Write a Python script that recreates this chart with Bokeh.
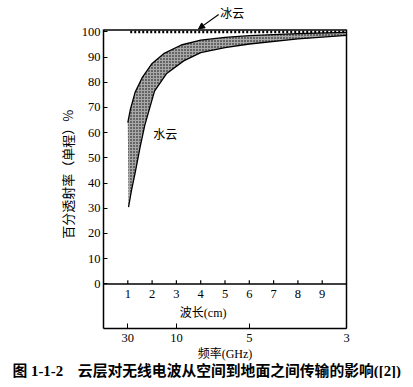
import numpy as np
from bokeh.plotting import figure
from bokeh.models import Range1d, FixedTicker, Span, Arrow, NormalHead, LinearAxis, Title
from bokeh.core.properties import value
from bokeh.embed import file_html
from bokeh.resources import INLINE

# ---- data ----
# water cloud band: upper and lower boundary, wavelength (cm) vs transmission (%)
wl_upper = [1.00, 1.10, 1.30, 1.60, 2.00, 2.50, 3.20, 4.00, 5.00, 6.00, 8.00, 10.0]
tr_upper = [64.0, 69.0, 76.0, 82.0, 87.5, 91.5, 94.8, 96.7, 97.8, 98.5, 99.3, 99.8]
wl_lower = [1.03, 1.15, 1.30, 1.50, 1.70, 2.10, 2.60, 3.30, 4.00, 5.00, 6.00, 8.00, 10.0]
tr_lower = [30.5, 37.0, 44.0, 54.0, 63.0, 76.5, 83.5, 88.5, 91.8, 93.8, 95.2, 97.2, 98.6]
# ice cloud
ice_wl = [1.1, 10.0]
ice_tr = [100.0, 100.0]
# scales
wl_ticks = [1, 2, 3, 4, 5, 6, 7, 8, 9]
freq_ghz = [30, 10, 5, 3]
y_ticks = [0, 10, 20, 30, 40, 50, 60, 70, 80, 90, 100]

# layout constants
Y_BOTTOM, Y_BOX_TOP, Y_TOP = -17.7, 100.8, 112.46

SERIF = "Liberation Serif"
CJK = "Noto Sans CJK SC"
MIX = "'Liberation Serif', 'Noto Sans CJK SC'"

p = figure(frame_width=243, frame_height=328, x_range=Range1d(0, 10), y_range=Range1d(Y_BOTTOM, Y_TOP),
           output_backend="svg", toolbar_location=None,
           min_border_left=103, min_border_right=60, min_border_top=0, min_border_bottom=6)
p.background_fill_color = "white"
p.border_fill_color = "white"
p.outline_line_color = None
p.xgrid.visible = False
p.ygrid.visible = False

# y axis (left edge of the box)
ya = p.yaxis[0]
ya.bounds = (Y_BOTTOM, Y_BOX_TOP)
ya.ticker = FixedTicker(ticks=y_ticks)
ya.axis_label = "百分透射率（单程）%\u3000\u2002"
ya.axis_label_text_font = CJK
ya.axis_label_text_font_style = "normal"
ya.axis_label_text_font_size = "13px"
ya.axis_label_text_color = "black"
ya.axis_label_standoff = 2
ya.major_label_text_font = SERIF
ya.major_label_text_font_size = "12.5px"
ya.major_label_text_color = "black"
ya.major_label_standoff = 3
ya.major_tick_in = 4
ya.major_tick_out = 0
ya.minor_tick_line_color = None
ya.axis_line_width = 1.5

# right edge of the box
ra = LinearAxis(bounds=(Y_BOTTOM, Y_BOX_TOP), ticker=FixedTicker(ticks=[]),
                major_label_text_font_size="0px", axis_line_width=1.5,
                major_tick_line_color=None, minor_tick_line_color=None)
p.add_layout(ra, "right")

# top edge of the box
p.add_layout(Span(location=Y_BOX_TOP, dimension="width", line_color="black", line_width=1.5))

# frequency axis (bottom)
freq_pos = [int(round(30 / f)) for f in freq_ghz]
xa = p.xaxis[0]
xa.ticker = FixedTicker(ticks=freq_pos)
xa.major_label_overrides = {pos: str(f) for pos, f in zip(freq_pos, freq_ghz)}
xa.major_label_text_font = SERIF
xa.major_label_text_font_size = "12.5px"
xa.major_label_text_color = "black"
xa.major_label_standoff = 5
xa.major_tick_in = 5
xa.major_tick_out = 0
xa.minor_tick_line_color = None
xa.axis_line_width = 1.5

# frequency axis title and caption, stacked below the axis
xt = Title(text="频率(GHz)", align="center", standoff=0, text_font=MIX, text_line_height=1.3,
           text_font_size="12px", text_font_style="normal", text_color="black")
p.add_layout(xt, "below")
cap = Title(text="图 1-1-2\u3000云层对无线电波从空间到地面之间传输的影响([2])",
            align="left", offset=-91, standoff=0, text_font=MIX, text_line_height=0.6,
            text_font_size="14.8px", text_font_style="bold", text_color="black")
p.add_layout(cap, "below")

# zero line and wavelength scale inside the box
p.add_layout(Span(location=0, dimension="width", line_color="black", line_width=1.5))
p.segment(x0=wl_ticks, y0=0, x1=wl_ticks, y1=1.4, line_color="black", line_width=1.2)
p.text(x=wl_ticks, y=-4.2, text=[str(t) for t in wl_ticks], text_align="center",
       text_baseline="middle", text_font=value(SERIF), text_font_size="12.5px", text_color="black")
p.text(x=[4.1], y=[-11.4], text=["波长(cm)"], text_align="center", text_baseline="middle",
       text_font=value(MIX), text_font_size="12px", text_color="black")

# water cloud band
band_x = np.concatenate([wl_upper, wl_lower[::-1]])
band_y = np.concatenate([tr_upper, tr_lower[::-1]])
p.patch(band_x, band_y, fill_color="#a8a8a8", line_color=None,
        hatch_pattern="dot", hatch_color="black", hatch_scale=3.0, hatch_weight=1.4)
p.line(wl_upper, tr_upper, line_color="black", line_width=1.3)
p.line(wl_lower, tr_lower, line_color="black", line_width=1.3)

# ice cloud
p.line(ice_wl, ice_tr, line_color="black", line_width=2.5, line_dash="2 2")

p.text(x=[2.54], y=[59.6], text=["水云"], text_align="center", text_baseline="middle",
       text_font=value(CJK), text_font_size="12px", text_color="black")
p.text(x=[5.30], y=[107.7], text=["冰云"], text_align="center", text_baseline="middle",
       text_font=value(CJK), text_font_size="12px", text_color="black")
p.add_layout(Arrow(x_start=4.74, y_start=106.9, x_end=3.91, y_end=101.2, line_width=1.2,
                   end=NormalHead(size=6, fill_color="black", line_color="black")))

open("out.html", "w").write(file_html(p, INLINE))
